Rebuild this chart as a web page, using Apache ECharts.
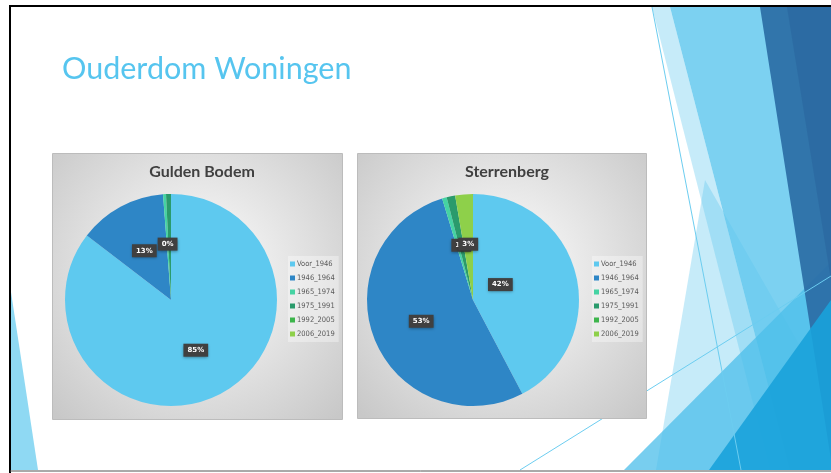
<!DOCTYPE html>
<html>
<head>
<meta charset="utf-8">
<script src="https://cdn.jsdelivr.net/npm/echarts@6/dist/echarts.min.js"></script>
<style>
  html, body { margin: 0; padding: 0; background: #fff; }
  #main { width: 831px; height: 473px; }
</style>
</head>
<body>
<div id="main"></div>
<script>
// categorieën (bouwperiodes)
var categories = ['Voor_1946', '1946_1964', '1965_1974', '1975_1991', '1992_2005', '2006_2019'];
// aandeel woningen per periode (%)
var guldenBodem = [85.4, 13.4, 0.45, 0.75, 0, 0];
var sterrenberg = [42.3, 53.0, 0.7, 1.3, 0, 2.7];
// welke labels zichtbaar zijn
var guldenLabels = [true, true, true, false, false, false];
var sterrenLabels = [true, true, false, true, false, true];

var colors = ['#5ec9ef', '#2e86c6', '#45d3a3', '#2a9b6c', '#3db54c', '#8ed04a'];

var myChart = echarts.init(document.getElementById('main'));

function buildData(values, labels, override) {
    return categories.map(function (name, i) {
        var item = { name: name, value: values[i] };
        item.label = { show: labels[i] };
        if (override && override[i]) item.label = Object.assign(item.label, override[i]);
        return item;
    });
}

var labelStyle = {
    position: 'inside',
    formatter: function (p) { return Math.round(p.percent) + '%'; },
    color: '#fff',
    fontSize: 7,
    fontWeight: 'bold',
    fontFamily: 'DejaVu Sans',
    backgroundColor: '#404040',
    padding: [3, 4],
    shadowBlur: 3,
    shadowColor: 'rgba(0,0,0,0.4)',
    shadowOffsetY: 1
};

var legendStyle = {
    data: categories,
    orient: 'vertical',
    top: 256,
    icon: 'rect',
    itemWidth: 5,
    itemHeight: 5,
    itemGap: 6,
    padding: [4, 4, 4, 2],
    backgroundColor: 'rgba(255,255,255,0.35)',
    selectedMode: false,
    textStyle: { fontSize: 7.5, color: '#595959', fontFamily: 'DejaVu Sans Condensed', padding: [0, 0, 0, -3] }
};

function panel(x, y, w, h) {
    return {
        type: 'rect',
        z: 1,
        shape: { x: x, y: y, width: w, height: h },
        style: {
            fill: new echarts.graphic.RadialGradient(0.5, 0.45, 0.75, [
                { offset: 0, color: '#ffffff' },
                { offset: 1, color: '#c8c8c8' }
            ]),
            stroke: '#bcbcbc',
            lineWidth: 1
        }
    };
}

function poly(points, fill) {
    return { type: 'polygon', z: 0, silent: true, shape: { points: points }, style: { fill: fill } };
}

myChart.setOption({
    backgroundColor: '#ffffff',
    color: colors,
    title: [{
        text: 'Ouderdom Woningen',
        left: 57,
        top: 49,
        textStyle: { fontFamily: 'Lato', fontWeight: 'normal', fontSize: 30.5, color: '#56c5ef' }
    }, {
        text: 'Gulden Bodem',
        left: 197,
        top: 159,
        textAlign: 'center',
        textStyle: { fontFamily: 'Lato', fontWeight: 'bold', fontSize: 16, color: '#404040' }
    }, {
        text: 'Sterrenberg',
        left: 502,
        top: 159,
        textAlign: 'center',
        textStyle: { fontFamily: 'Lato', fontWeight: 'bold', fontSize: 16, color: '#404040' }
    }],
    legend: [
        Object.assign({ left: 288 }, legendStyle),
        Object.assign({ left: 592 }, legendStyle)
    ],
    graphic: [
        // dia-achtergrond (Facet-stijl vlakken)
        poly([[705, 180], [831, 400], [831, 470], [656, 470]], 'rgba(91,198,238,0.35)'),
        poly([[652, 7], [670, 7], [790, 470], [770, 470]], 'rgba(91,198,238,0.35)'),
        poly([[670, 7], [831, 7], [831, 470], [790, 470]], 'rgba(91,198,238,0.8)'),
        poly([[624, 470], [831, 262], [831, 470]], 'rgba(75,190,234,0.75)'),
        poly([[760, 7], [831, 7], [831, 460]], 'rgba(42,108,165,0.92)'),
        poly([[787, 7], [831, 7], [831, 280]], 'rgba(30,80,140,0.25)'),
        poly([[709, 470], [831, 300], [831, 470]], 'rgba(25,162,218,0.9)'),
        poly([[11, 292], [11, 470], [38, 470]], '#8fd9f3'),
        { type: 'line', z: 0, silent: true, shape: { x1: 652, y1: 7, x2: 741, y2: 470 }, style: { stroke: '#6ccdf0', lineWidth: 1 } },
        { type: 'line', z: 0, silent: true, shape: { x1: 520, y1: 470, x2: 831, y2: 276 }, style: { stroke: '#6ccdf0', lineWidth: 1 } },
        // dia-rand
        { type: 'polyline', z: 5, silent: true, shape: { points: [[10, 473], [10, 6], [831, 6]] }, style: { stroke: '#000', lineWidth: 2, fill: null } },
        { type: 'line', z: 5, silent: true, shape: { x1: 10, y1: 471, x2: 831, y2: 471 }, style: { stroke: '#555', lineWidth: 1 } },
        // grafiekvlakken
        panel(52.5, 153.5, 290, 266),
        panel(357.5, 153.5, 289, 265)
    ],
    series: [{
        name: 'Gulden Bodem',
        type: 'pie',
        z: 3,
        center: [171, 300],
        radius: 106,
        startAngle: 90,
        clockwise: true,
        label: labelStyle,
        labelLine: { show: false },
        labelLayout: { hideOverlap: false },
        itemStyle: { borderWidth: 0 },
        emphasis: { disabled: true },
        data: buildData(guldenBodem, guldenLabels)
    }, {
        name: 'Sterrenberg',
        type: 'pie',
        z: 3,
        center: [473, 300],
        radius: 106,
        startAngle: 90,
        clockwise: true,
        label: labelStyle,
        labelLine: { show: false },
        labelLayout: { hideOverlap: false },
        itemStyle: { borderWidth: 0 },
        emphasis: { disabled: true },
        data: buildData(sterrenberg, sterrenLabels, { 0: { offset: [-27, -2] } })
    }]
});
</script>
</body>
</html>
